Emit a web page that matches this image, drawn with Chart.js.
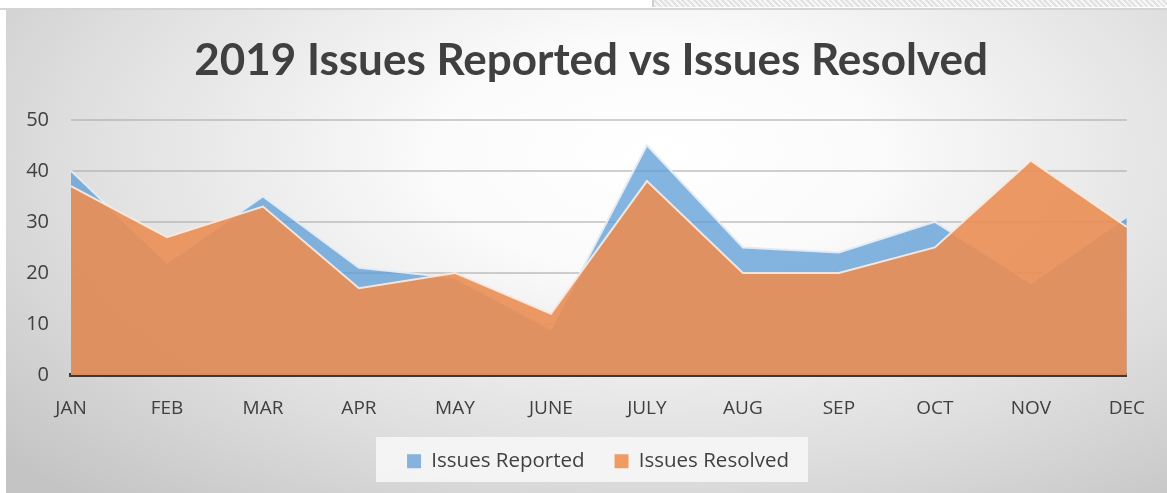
<!DOCTYPE html>
<html>
<head>
<meta charset="utf-8">
<script src="https://cdn.jsdelivr.net/npm/chart.js@4"></script>
<style>
    body { margin: 0; width: 1167px; height: 493px; background: #fff; position: relative; overflow: hidden; font-family: Lato, sans-serif; }
    #topStrip { position: absolute; left: 0; top: 0; width: 1167px; height: 8px; border-bottom: 2px solid #d4d4d4; background: #fff; }
    #hatch { position: absolute; left: 652px; top: 0; width: 515px; height: 7px; border-left: 2px solid #d0d0d0;
        background: repeating-linear-gradient(45deg, #e2e2e2 0 2px, #f6f6f6 2px 4px); }
    #frame { position: absolute; left: 6px; top: 10px; width: 1161px; height: 483px;
        background: radial-gradient(ellipse 75% 95% at 56% 30%, #ffffff 0%, #fbfbfb 25%, #e0e0e0 65%, #c4c4c4 100%); }
    #wrap { position: absolute; left: 0; top: 0; width: 1167px; height: 493px; }
</style>
</head>
<body>
<div id="topStrip"></div>
<div id="hatch"></div>
<div id="frame"></div>
<div id="wrap"><canvas id="chart"></canvas></div>
<script>
// Chart data
const months = ['JAN', 'FEB', 'MAR', 'APR', 'MAY', 'JUNE', 'JULY', 'AUG', 'SEP', 'OCT', 'NOV', 'DEC'];
const issuesReported = [40, 22, 35, 21, 19, 9, 45, 25, 24, 30, 18, 31];
const issuesResolved = [37, 27, 33, 17, 20, 12, 38, 20, 20, 25, 42, 29];
const yTicks = [0, 10, 20, 30, 40, 50];

// Fixed legend height, so the plot area keeps its place
const legendHeight = {
    id: 'legendHeight',
    beforeLayout(chart) {
        const lg = chart.legend;
        if (lg && !lg._fixedFit) {
            const fit = lg.fit;
            lg.fit = function () {
                fit.call(this);
                this.height = 75;
            };
            lg._fixedFit = true;
        }
    },
    // title and legend are centred on the whole frame, not the plot
    afterLayout(chart) {
        chart.titleBlock.left += 23;
        chart.titleBlock.right += 23;
        chart.legend.left += 30;
        chart.legend.right += 30;
        chart.legend.top += 3;
    }
};

// Light box behind the legend
const legendBox = {
    id: 'legendBox',
    beforeDraw(chart) {
        const ctx = chart.ctx;
        ctx.save();
        ctx.fillStyle = 'rgba(246,246,246,0.9)';
        ctx.fillRect(376, 437, 432, 45);
        ctx.restore();
    }
};

const ctx = document.getElementById('chart').getContext('2d');
const chart = new Chart(ctx, {
    type: 'line',
    data: {
        labels: months,
        datasets: [
            {
                label: 'Issues Reported',
                data: issuesReported,
                order: 2,
                borderColor: 'rgba(225,236,247,0.95)',
                backgroundColor: 'rgba(91,155,213,0.75)',
                borderWidth: 2,
                fill: 'origin',
                pointRadius: 0,
                tension: 0
            },
            {
                label: 'Issues Resolved',
                data: issuesResolved,
                order: 1,
                borderColor: 'rgba(252,232,218,0.95)',
                backgroundColor: 'rgba(234,142,84,0.9)',
                borderWidth: 2,
                fill: 'origin',
                pointRadius: 0,
                tension: 0
            }
        ]
    },
    options: {
        responsive: true,
        maintainAspectRatio: false,
        animation: false,
        layout: {
            padding: { left: 8, right: 39, top: 0, bottom: 0 }
        },
        plugins: {
            title: {
                display: true,
                text: '2019 Issues Reported vs Issues Resolved',
                color: '#404040',
                font: { family: 'Lato', size: 44, weight: 'bold' },
                padding: { top: 34, bottom: 33 }
            },
            legend: {
                position: 'bottom',
                labels: {
                    color: '#404040',
                    font: { family: 'Open Sans', size: 20.5 },
                    boxWidth: 14,
                    boxHeight: 14,
                    padding: 30,
                    generateLabels(chart) {
                        return chart.data.datasets.map((ds, i) => ({
                            text: ds.label,
                            fillStyle: i === 0 ? '#85b3dd' : '#ef9b62',
                            strokeStyle: 'transparent',
                            lineWidth: 0,
                            fontColor: '#404040',
                            datasetIndex: i
                        }));
                    }
                }
            },
            tooltip: { enabled: false }
        },
        scales: {
            x: {
                offset: false,
                afterFit(scale) {
                    scale.height = 43;
                },
                grid: { display: false, drawTicks: false },
                border: { display: true, color: '#3a3a3a', width: 4 },
                ticks: {
                    color: '#404040',
                    font: { family: 'Open Sans', size: 19 },
                    padding: 22,
                    maxRotation: 0,
                    autoSkip: false
                }
            },
            y: {
                min: 0,
                max: 50,
                afterBuildTicks(scale) {
                    scale.ticks = yTicks.map(v => ({ value: v }));
                },
                afterFit(scale) {
                    scale.width = 63;
                },
                grid: {
                    color: ctx => ctx.tick.value === 0 ? 'transparent' : 'rgba(170,170,170,0.55)',
                    lineWidth: 2,
                    drawTicks: false
                },
                border: { display: false },
                ticks: {
                    color: '#404040',
                    font: { family: 'Open Sans', size: 20 },
                    padding: 22
                }
            }
        }
    },
    plugins: [legendHeight, legendBox]
});
</script>
</body>
</html>
